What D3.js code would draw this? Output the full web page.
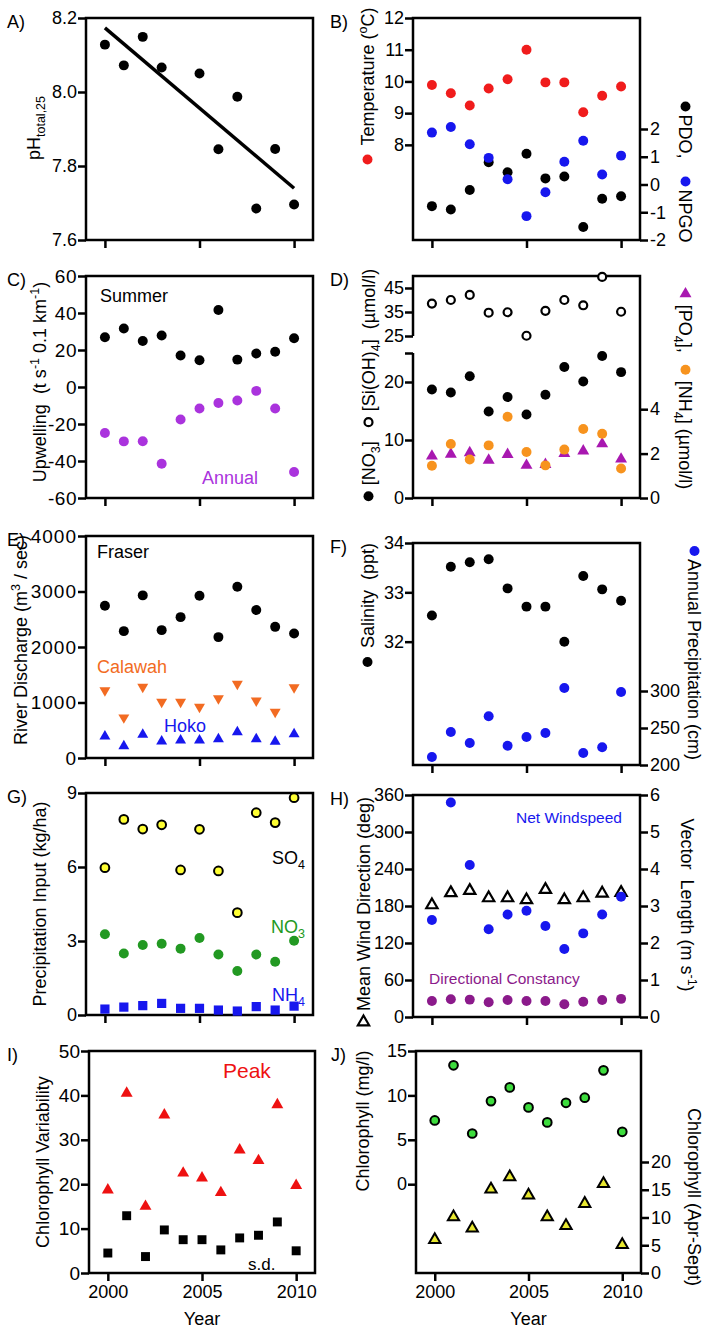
<!DOCTYPE html>
<html>
<head>
<meta charset="utf-8">
<script src="https://cdn.jsdelivr.net/npm/d3@7"></script>
<style>
body { margin: 0; background: #fff; }
text { white-space: pre; }
</style>
</head>
<body>
<svg id="fig" width="708" height="1330"></svg>
<script>
// years on the x axis
var years = [2000, 2001, 2002, 2003, 2004, 2005, 2006, 2007, 2008, 2009, 2010];
var yearsPH = [2000, 2001, 2002, 2003, 2005, 2006, 2007, 2008, 2009, 2010];
var yearTicks = [2000, 2005, 2010];

// A) pH
var ph = [8.128, 8.072, 8.149, 8.066, 8.050, 7.845, 7.987, 7.685, 7.846, 7.696];
// B) temperature, PDO, NPGO
var temperature = [9.89, 9.63, 9.24, 9.78, 10.07, 11.0, 9.97, 9.97, 9.03, 9.55, 9.84];
var pdo = [-0.78, -0.90, -0.20, 0.80, 0.44, 1.11, 0.22, 0.29, -1.53, -0.51, -0.42];
var npgo = [1.87, 2.07, 1.45, 0.96, 0.19, -1.14, -0.28, 0.82, 1.58, 0.36, 1.04];
// C) upwelling
var upwellSummer = [26.9, 31.6, 24.9, 27.8, 17.0, 14.5, 41.6, 14.8, 18.1, 19.1, 26.4];
var upwellAnnual = [-24.9, -29.4, -29.3, -41.5, -17.6, -11.6, -8.6, -7.3, -2.1, -11.6, -46.0];
// D) nutrients
var silicate = [38.5, 40.0, 42.1, 34.7, 34.9, 25.1, 35.5, 40.0, 37.8, 49.6, 35.1];
var nitrate = [18.7, 18.2, 21.0, 14.9, 17.4, 14.4, 17.8, 22.6, 20.1, 24.5, 21.7];
var ammonium = [1.45, 2.43, 1.73, 2.37, 3.66, 2.07, 1.47, 2.18, 3.11, 2.89, 1.33];
var phosphate = [1.89, 1.97, 2.04, 1.70, 1.96, 1.47, 1.51, 2.00, 2.12, 2.44, 1.75];
// E) river discharge
var fraser = [2742, 2286, 2930, 2304, 2538, 2923, 2178, 3085, 2665, 2363, 2244];
var calawah = [1216, 729, 1281, 1010, 1010, 920, 1072, 1335, 1035, 830, 1270];
var hoko = [391, 216, 422, 301, 319, 319, 343, 469, 343, 296, 433];
// F) salinity, precipitation
var salinity = [32.53, 33.52, 33.61, 33.67, 33.08, 32.71, 32.71, 32.0, 33.33, 33.06, 32.83];
var precipitation = [210.8, 244.6, 229.7, 265.8, 226.1, 237.8, 243.2, 304.1, 216.2, 223.9, 298.6];
// G) precipitation chemistry
var so4 = [5.97, 7.93, 7.54, 7.71, 5.88, 7.53, 5.84, 4.15, 8.20, 7.80, 8.81];
var no3Input = [3.27, 2.49, 2.84, 2.89, 2.69, 3.12, 2.45, 1.78, 2.45, 2.16, 3.01];
var nh4Input = [0.24, 0.32, 0.38, 0.47, 0.27, 0.27, 0.20, 0.16, 0.34, 0.20, 0.36];
// H) wind
var windDirection = [181.6, 201.2, 205.0, 193.0, 193.0, 189.8, 206.6, 189.8, 193.0, 200.6, 201.7];
var netWindspeed = [2.62, 5.80, 4.11, 2.37, 2.77, 2.87, 2.46, 1.84, 2.26, 2.77, 3.25];
var constancy = [0.435, 0.48, 0.47, 0.40, 0.46, 0.435, 0.435, 0.345, 0.41, 0.46, 0.49];
// I) chlorophyll variability
var chlPeak = [18.7, 40.5, 15.0, 35.6, 22.5, 21.4, 18.1, 27.7, 25.3, 37.9, 19.7];
var chlSD = [4.5, 12.9, 3.7, 9.7, 7.5, 7.5, 5.2, 7.9, 8.5, 11.5, 5.0];
// J) chlorophyll
var chlMean = [7.18, 13.39, 5.71, 9.36, 10.9, 8.65, 6.96, 9.17, 9.74, 12.82, 5.9];
var chlAprSept = [5.97, 10.1, 8.06, 15.1, 17.3, 14.0, 10.1, 8.53, 12.5, 16.1, 5.07];

var FONT = "Liberation Sans, Arial, Helvetica, sans-serif";
var H = 222;
var svg = d3.select("#fig").attr("font-family", FONT);

function panel(x0, x1, top, name, nameX) {
  var g = svg.append("g");
  g.append("text").text(name).attr("x", nameX).attr("y", top + 9.5).attr("font-size", 18);
  return { g: g, x0: x0, x1: x1, top: top, bottom: top + H,
           x: d3.scaleLinear().domain([1999, 2011]).range([x0, x1]) };
}

function styleAxis(ax, size) {
  ax.select(".domain").remove();
  ax.attr("font-size", size || 18).attr("font-family", FONT);
  ax.selectAll(".tick line").attr("stroke-width", 2.5);
  ax.selectAll(".tick text").attr("fill", "#000");
}

function yLeft(p, y, ticks, fmt, size) {
  var ax = p.g.append("g").attr("transform", "translate(" + p.x0 + ",0)")
    .call(d3.axisLeft(y).tickValues(ticks).tickSize(8).tickPadding(1).tickFormat(fmt || String));
  styleAxis(ax, size);
  return ax;
}

function yRight(p, y, ticks) {
  var ax = p.g.append("g").attr("transform", "translate(" + p.x1 + ",0)")
    .call(d3.axisRight(y).tickValues(ticks).tickSize(8).tickPadding(2).tickFormat(String));
  styleAxis(ax);
}

function xAxis(p, withLabels) {
  var ax = p.g.append("g").attr("transform", "translate(0," + p.bottom + ")")
    .call(d3.axisBottom(p.x).tickValues(yearTicks).tickSize(8).tickPadding(4)
      .tickFormat(withLabels ? String : function () { return ""; }));
  styleAxis(ax);
  if (withLabels) {
    p.g.append("text").text("Year").attr("x", (p.x0 + p.x1) / 2).attr("y", 1325)
      .attr("text-anchor", "middle").attr("font-size", 18);
  }
}

function frame(p) {
  p.g.append("rect").attr("x", p.x0).attr("y", p.top).attr("width", p.x1 - p.x0).attr("height", H)
    .attr("fill", "none").attr("stroke", "#000").attr("stroke-width", 2.5);
}

function marks(p, xs, vals, y, o) {
  p.g.append("g").selectAll("path").data(vals).join("path")
    .attr("transform", function (d, i) {
      return "translate(" + p.x(xs[i]) + "," + y(d) + ")" + (o.rot ? " rotate(" + o.rot + ")" : "");
    })
    .attr("d", d3.symbol(o.type || d3.symbolCircle, o.size || 78))
    .attr("fill", o.fill).attr("stroke", o.stroke || "none").attr("stroke-width", o.sw || 0);
}

function richText(t, segs) {
  var shift = 0;
  segs.forEach(function (s) {
    var str = typeof s === "string" ? s : s[0];
    var kind = typeof s === "string" ? "" : s[1];
    var target = kind === "sub" ? 5 : kind === "sup" ? -7 : 0;
    var ts = t.append("tspan").text(str).attr("dy", target - shift);
    if (kind) ts.attr("font-size", 12.5);
    shift = target;
  });
  return t;
}

function note(p, x, y, segs, color, size, anchor) {
  richText(p.g.append("text").attr("x", x).attr("y", y).attr("fill", color || "#000")
    .attr("font-size", size || 18).attr("text-anchor", anchor || "start"), segs);
}

// rotated axis title made of text pieces and legend symbols
function sideLabel(x, yc, angle, parts) {
  var outer = svg.append("g");
  var g = outer.append("g");
  var pos = 0;
  parts.forEach(function (pt) {
    if (typeof pt === "number") { pos += pt; return; }
    if (pt.sym) {
      g.append("path").attr("d", d3.symbol(pt.sym, pt.size || 78)())
        .attr("transform", "translate(" + (pos + 5) + ",-6.5)" + (pt.rot ? " rotate(" + pt.rot + ")" : ""))
        .attr("fill", pt.fill).attr("stroke", pt.stroke || "none").attr("stroke-width", pt.sw || 0);
      pos += 10;
      return;
    }
    var t = richText(g.append("text").attr("x", pos).attr("y", 0).attr("font-size", 18), pt.t);
    pos += t.node().getComputedTextLength();
  });
  g.attr("transform", "translate(" + (-pos / 2) + ",0)");
  outer.attr("transform", "translate(" + x + "," + yc + ") rotate(" + angle + ")");
}

var red = "#f01c1c", blue = "#1717ee";

// ---- A
var pA = panel(86, 313, 18, "A)", 7);
var yA = d3.scaleLinear().domain([7.6, 8.2]).range([pA.bottom, pA.top]);
frame(pA);
yLeft(pA, yA, [7.6, 7.8, 8.0, 8.2], d3.format(".1f"));
xAxis(pA, false);
var mx = d3.mean(yearsPH), my = d3.mean(ph);
var slope = d3.sum(yearsPH, function (d, i) { return (d - mx) * (ph[i] - my); }) /
            d3.sum(yearsPH, function (d) { return (d - mx) * (d - mx); });
pA.g.append("line")
  .attr("x1", pA.x(2000)).attr("y1", yA(my + slope * (2000 - mx)))
  .attr("x2", pA.x(2010)).attr("y2", yA(my + slope * (2010 - mx)))
  .attr("stroke", "#000").attr("stroke-width", 3.5);
marks(pA, yearsPH, ph, yA, { fill: "#000" });
sideLabel(40, 128, -90, [{ t: ["pH", ["total,25", "sub"]] }]);

// ---- B
var pB = panel(413, 640, 18, "B)", 330);
var yBt = d3.scaleLinear().domain([5, 12]).range([pB.bottom, pB.top]);
var yBi = d3.scaleLinear().domain([-2, 6]).range([pB.bottom, pB.top]);
frame(pB);
yLeft(pB, yBt, [8, 9, 10, 11, 12]);
yRight(pB, yBi, [-2, -1, 0, 1, 2]);
xAxis(pB, false);
marks(pB, years, temperature, yBt, { fill: red });
marks(pB, years, pdo, yBi, { fill: "#000" });
marks(pB, years, npgo, yBi, { fill: blue });
sideLabel(374, 86, -90, [{ sym: d3.symbolCircle, fill: red }, 9, { t: ["Temperature (", ["o", "sup"], "C)"] }]);
sideLabel(679, 172, 90, [{ sym: d3.symbolCircle, fill: "#000" }, 3, { t: ["PDO,"] }, 18,
  { sym: d3.symbolCircle, fill: blue }, 3, { t: ["NPGO"] }]);

// ---- C
var pC = panel(86, 313, 276, "C)", 7);
var yC = d3.scaleLinear().domain([-60, 60]).range([pC.bottom, pC.top]);
frame(pC);
yLeft(pC, yC, [-60, -40, -20, 0, 20, 40, 60], null, 19).selectAll(".tick text").attr("letter-spacing", 0.5);
xAxis(pC, false);
marks(pC, years, upwellSummer, yC, { fill: "#000" });
marks(pC, years, upwellAnnual, yC, { fill: "#aa33dd" });
note(pC, 100, 302, ["Summer"]);
note(pC, 202, 484, ["Annual"], "#aa33dd");
sideLabel(46, 382, -90, [{ t: ["Upwelling  (t s", ["-1", "sup"], " 0.1 km", ["-1", "sup"], ")"] }]);

// ---- D (broken left axis)
var pD = panel(413, 640, 276, "D)", 330);
var yDs = d3.scaleLinear().domain([25, 50]).range([336, pD.top]);
var yDn = d3.scaleLinear().domain([0, 25]).range([pD.bottom, 353]);
var yDr = d3.scaleLinear().domain([0, 10]).range([pD.bottom, pD.top]);
pD.g.append("path")
  .attr("d", "M" + pD.x0 + "," + yDs(25) + "V" + pD.top + "H" + pD.x1 + "V" + pD.bottom + "H" + pD.x0 + "V" + yDn(25))
  .attr("fill", "none").attr("stroke", "#000").attr("stroke-width", 2.5);
yLeft(pD, yDs, [25, 35, 45]);
yLeft(pD, yDn, [0, 10, 20, 25], function (d) { return d === 25 ? "" : String(d); });
yRight(pD, yDr, [0, 2, 4]);
xAxis(pD, false);
marks(pD, years, nitrate, yDn, { fill: "#000" });
marks(pD, years, phosphate, yDr, { type: d3.symbolTriangle, size: 62, fill: "#a818b0" });
marks(pD, years, ammonium, yDr, { fill: "#f7931e" });
marks(pD, years, silicate, yDs, { size: 50, fill: "#fff", stroke: "#000", sw: 2.2 });
sideLabel(375, 385, -90, [{ sym: d3.symbolCircle, fill: "#000" }, 6, { t: ["[NO", ["3", "sub"], "]"] }, 14,
  { sym: d3.symbolCircle, size: 50, fill: "#fff", stroke: "#000", sw: 2.2 }, 6,
  { t: ["[Si(OH)", ["4", "sub"], "]  (\u00b5mol/l)"] }]);
sideLabel(679, 389, 90, [{ sym: d3.symbolTriangle, size: 62, fill: "#a818b0", rot: -90 }, 6,
  { t: ["[PO", ["4", "sub"], "],"] }, 12, { sym: d3.symbolCircle, fill: "#f7931e" }, 6,
  { t: ["[NH", ["4", "sub"], "] (\u00b5mol/l)"] }]);

// ---- E
var pE = panel(86, 313, 536, "E)", 7);
var yE = d3.scaleLinear().domain([0, 4000]).range([pE.bottom, pE.top]);
frame(pE);
yLeft(pE, yE, [0, 1000, 2000, 3000, 4000], null, 19).selectAll(".tick text").attr("letter-spacing", 1);
xAxis(pE, false);
marks(pE, years, fraser, yE, { fill: "#000" });
marks(pE, years, calawah, yE, { type: d3.symbolTriangle, size: 52, rot: 180, fill: "#f26b22" });
marks(pE, years, hoko, yE, { type: d3.symbolTriangle, size: 52, fill: blue });
note(pE, 97, 558, ["Fraser"]);
note(pE, 97, 673, ["Calawah"], "#f26b22");
note(pE, 164, 732, ["Hoko"], blue);
sideLabel(27, 640, -90, [{ t: ["River Discharge (m", ["3", "sup"], " / sec)"] }]);

// ---- F
var pF = panel(413, 640, 543, "F)", 330);
var yFs = d3.scaleLinear().domain([29.5, 34]).range([pF.bottom, pF.top]);
var yFp = d3.scaleLinear().domain([200, 500]).range([pF.bottom, pF.top]);
frame(pF);
yLeft(pF, yFs, [32, 33, 34]);
yRight(pF, yFp, [200, 250, 300]);
xAxis(pF, false);
marks(pF, years, salinity, yFs, { fill: "#000" });
marks(pF, years, precipitation, yFp, { fill: blue });
sideLabel(374, 605, -90, [{ sym: d3.symbolCircle, fill: "#000" }, 9, { t: ["Salinity  (ppt)"] }]);
sideLabel(688, 653, 90, [{ sym: d3.symbolCircle, fill: blue }, 3, { t: ["Annual Precipitation (cm)"] }]);

// ---- G
var pG = panel(86, 313, 793, "G)", 7);
var yG = d3.scaleLinear().domain([0, 9]).range([pG.bottom, pG.top]);
frame(pG);
yLeft(pG, yG, [0, 3, 6, 9]);
xAxis(pG, false);
marks(pG, years, so4, yG, { size: 60, fill: "#ffff33", stroke: "#000", sw: 2 });
marks(pG, years, no3Input, yG, { fill: "#229922" });
marks(pG, years, nh4Input, yG, { type: d3.symbolSquare, size: 85, fill: blue });
note(pG, 305, 864, ["SO", ["4", "sub"]], "#000", 18, "end");
note(pG, 305, 933, ["NO", ["3", "sub"]], "#229922", 18, "end");
note(pG, 305, 1001, ["NH", ["4", "sub"]], blue, 18, "end");
sideLabel(46, 904, -90, [{ t: ["Precipitation Input (kg/ha)"] }]);

// ---- H
var pH = panel(413, 640, 795, "H)", 330);
var yHd = d3.scaleLinear().domain([0, 360]).range([pH.bottom, pH.top]);
var yHv = d3.scaleLinear().domain([0, 6]).range([pH.bottom, pH.top]);
frame(pH);
yLeft(pH, yHd, [0, 60, 120, 180, 240, 300, 360]);
yRight(pH, yHv, [0, 1, 2, 3, 4, 5, 6]);
xAxis(pH, false);
marks(pH, years, windDirection, yHd, { type: d3.symbolTriangle, size: 55, fill: "#fff", stroke: "#000", sw: 2.2 });
marks(pH, years, netWindspeed, yHv, { fill: blue });
marks(pH, years, constancy, yHv, { fill: "#8b1a8b" });
note(pH, 516, 823, ["Net Windspeed"], blue, 15.5);
note(pH, 429, 984, ["Directional Constancy"], "#8b1a8b", 15.5);
sideLabel(370, 912, -90, [{ sym: d3.symbolTriangle, size: 55, fill: "#fff", stroke: "#000", sw: 2.2, rot: 90 }, 6,
  { t: ["Mean Wind Direction (deg)"] }]);
sideLabel(681, 905, 90, [{ t: ["Vector  Length (m s", ["-1", "sup"], ")"] }]);

// ---- I
var pI = panel(89, 315, 1051, "I)", 7);
var yI = d3.scaleLinear().domain([0, 50]).range([pI.bottom, pI.top]);
frame(pI);
yLeft(pI, yI, [0, 10, 20, 30, 40, 50], null, 19);
xAxis(pI, true);
marks(pI, years, chlPeak, yI, { type: d3.symbolTriangle, size: 62, fill: "#ee1111" });
marks(pI, years, chlSD, yI, { type: d3.symbolSquare, size: 80, fill: "#000" });
note(pI, 223, 1078, ["Peak"], "#ee1111", 21);
note(pI, 248, 1270, ["s.d."], "#000", 17);
sideLabel(49, 1162, -90, [{ t: ["Chlorophyll Variability"] }]);

// ---- J
var pJ = panel(416, 641, 1051, "J)", 331);
var yJl = d3.scaleLinear().domain([-10, 15]).range([pJ.bottom, pJ.top]);
var yJr = d3.scaleLinear().domain([0, 40]).range([pJ.bottom, pJ.top]);
frame(pJ);
yLeft(pJ, yJl, [0, 5, 10, 15]);
yRight(pJ, yJr, [0, 5, 10, 15, 20]);
xAxis(pJ, true);
marks(pJ, years, chlMean, yJl, { size: 60, fill: "#3ddc3d", stroke: "#000", sw: 2 });
marks(pJ, years, chlAprSept, yJr, { type: d3.symbolTriangle, size: 55, fill: "#e8e830", stroke: "#000", sw: 2 });
sideLabel(369, 1121, -90, [{ t: ["Chlorophyll (mg/l)"] }]);
sideLabel(688, 1197, 90, [{ t: ["Chlorophyll (Apr-Sept)"] }]);
</script>
</body>
</html>
